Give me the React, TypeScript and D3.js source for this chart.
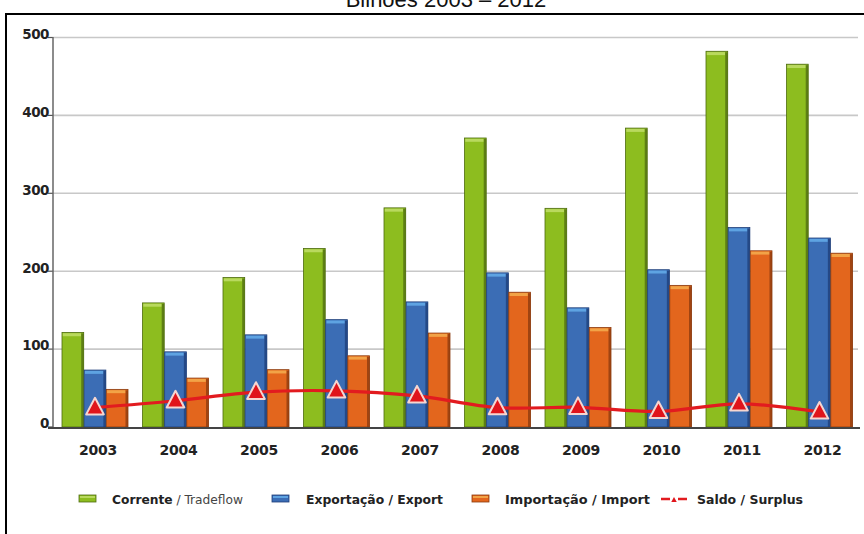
import React from "react";
import * as d3 from "d3";

const years = ["2003", "2004", "2005", "2006", "2007", "2008", "2009", "2010", "2011", "2012"];
const tradeflow = [121.4, 159.3, 191.9, 229.2, 281.3, 371.0, 280.7, 383.7, 482.3, 465.7];
const exports_ = [73.1, 96.5, 118.3, 137.8, 160.6, 197.9, 153.0, 201.9, 256.0, 242.6];
const imports_ = [48.3, 62.8, 73.6, 91.4, 120.6, 173.0, 127.7, 181.8, 226.2, 223.1];
const surplus = [24.8, 33.7, 44.7, 46.5, 40.0, 24.9, 25.3, 20.1, 29.8, 19.4];
const yTicks = [0, 100, 200, 300, 400, 500];
const seriesNames = ["Corrente / Tradeflow", "Exportação / Export", "Importação / Import", "Saldo / Surplus"];
const title = "Bilhões 2003 – 2012";

const W = 864;
const H = 534;

const barStyles = [
  { fill: "#8dbd1f", top: "#b9d95e", edge: "#4e6b10" },
  { fill: "#3b6db5", top: "#5ea3e2", edge: "#1e3e78" },
  { fill: "#e3661d", top: "#f2a347", edge: "#8a3a0d" },
];

export default function App() {
  const y = d3.scaleLinear().domain([0, 500]).range([427, 37.5]);
  const x0 = d3.scaleBand<string>().domain(years).range([54.75, 859.75]).padding(0);
  const groupW = 66;
  const x1 = d3.scaleBand<number>().domain([0, 1, 2]).range([0, groupW]).paddingInner(0.02);
  const groupStart = (yr: string) => (x0(yr) as number) + (x0.bandwidth() - groupW) / 2;
  const center = (yr: string) => (x0(yr) as number) + x0.bandwidth() / 2;
  const barData = [tradeflow, exports_, imports_];

  const line = d3
    .line<number>()
    .x((_, i) => center(years[i]))
    .y((d) => y(d))
    .curve(d3.curveCatmullRom.alpha(0.5));

  const tri = (cx: number, cy: number, s: number) =>
    `M${cx},${cy - s * 0.62} L${cx + s * 0.55},${cy + s * 0.42} L${cx - s * 0.55},${cy + s * 0.42} Z`;

  const legendItems = [
    { sx: 79, tx: 112, tw: 131 },
    { sx: 272, tx: 306, tw: 137 },
    { sx: 472, tx: 505, tw: 145 },
    { sx: 661, tx: 697, tw: 106 },
  ];
  const legY = 499;

  return (
    <svg
      width={W}
      height={H}
      style={{ position: "absolute", left: 0, top: 0, background: "#fff" }}
      xmlns="http://www.w3.org/2000/svg"
    >
      {/* title (cut off at top) */}
      <text x={446} y={7} textAnchor="middle" fontFamily="Liberation Sans, Arial" fontSize={22} fill="#111">
        {title}
      </text>
      {/* frame */}
      <rect x={6} y={14} width={W + 10} height={H + 10} fill="none" stroke="#000" strokeWidth={2} />

      {/* gridlines */}
      {yTicks.filter((t) => t > 0).map((t) => (
        <line key={t} x1={53} x2={858} y1={y(t)} y2={y(t)} stroke="#c8c8c8" strokeWidth={1.6} />
      ))}
      {/* y ticks + labels */}
      {yTicks.map((t) => (
        <g key={"t" + t}>
          <line x1={48} x2={53} y1={y(t)} y2={y(t)} stroke="#555" strokeWidth={1.2} />
          <text
            x={49}
            y={y(t)}
            dy="0.1em"
            textAnchor="end"
            fontFamily="DejaVu Sans"
            fontWeight="bold"
            fontSize={13.5}
            fill="#222"
            style={{ letterSpacing: "-0.5px" }}
          >
            {t}
          </text>
        </g>
      ))}

      {/* bars */}
      {years.map((yr, i) => (
        <g key={yr}>
          {barData.map((arr, s) => {
            const bx = groupStart(yr) + (x1(s) as number);
            const bw = x1.bandwidth();
            const by = y(arr[i]);
            const bh = y(0) - by;
            const st = barStyles[s];
            return (
              <g key={s}>
                <rect x={bx} y={by} width={bw} height={bh} fill={st.fill} stroke={st.edge} strokeWidth={0.8} />
                <rect x={bx + bw - 2.5} y={by + 1} width={2.5} height={bh - 1} fill={st.edge} opacity={0.75} />
                <rect x={bx + 0.8} y={by + 0.8} width={bw - 3.5} height={3} fill={st.top} />
              </g>
            );
          })}
        </g>
      ))}

      {/* axes */}
      <line x1={53} x2={53} y1={37} y2={428} stroke="#666" strokeWidth={1.5} />
      <line x1={48} x2={860} y1={428} y2={428} stroke="#444" strokeWidth={1.8} />

      {/* x labels */}
      {years.map((yr) => (
        <text
          key={"x" + yr}
          x={center(yr) + 3}
          y={455}
          textAnchor="middle"
          fontFamily="DejaVu Sans"
          fontWeight="bold"
          fontSize={14}
          fill="#222"
          style={{ letterSpacing: "-0.3px" }}
        >
          {yr}
        </text>
      ))}

      {/* surplus line */}
      <path d={line(surplus) || ""} fill="none" stroke="#e21b1f" strokeWidth={3.2} />
      {surplus.map((v, i) => (
        <path
          key={"m" + i}
          d={tri(center(years[i]), y(v), 16)}
          fill="#e0141b"
          stroke="#f6d6d0"
          strokeWidth={2}
          strokeLinejoin="round"
        />
      ))}

      {/* legend */}
      {legendItems.map((it, k) => (
        <g key={"l" + k}>
          {k < 3 ? (
            <g>
              <rect x={it.sx} y={legY - 4} width={17} height={7} fill={barStyles[k].fill} stroke={barStyles[k].edge} strokeWidth={0.8} />
              <rect x={it.sx + 1} y={legY - 3} width={15} height={2} fill={barStyles[k].top} />
            </g>
          ) : (
            <g>
              <line x1={it.sx} x2={it.sx + 9} y1={legY} y2={legY} stroke="#e21b1f" strokeWidth={2.5} />
              <line x1={it.sx + 17} x2={it.sx + 26} y1={legY} y2={legY} stroke="#e21b1f" strokeWidth={2.5} />
              <path d={tri(it.sx + 13, legY + 1, 5)} fill="#e0141b" />
            </g>
          )}
          {k === 0 ? (
            <text
              x={it.tx}
              y={legY + 5}
              fontFamily="DejaVu Sans Condensed, DejaVu Sans"
              fontSize={13}
              fill="#222"
              textLength={it.tw}
              lengthAdjust="spacingAndGlyphs"
            >
              <tspan fontWeight="bold">Corrente</tspan>
              <tspan fill="#444"> / Tradeflow</tspan>
            </text>
          ) : (
            <text
              x={it.tx}
              y={legY + 5}
              fontFamily="DejaVu Sans Condensed, DejaVu Sans"
              fontWeight="bold"
              fontSize={13}
              fill="#222"
              textLength={it.tw}
              lengthAdjust="spacingAndGlyphs"
            >
              {seriesNames[k]}
            </text>
          )}
        </g>
      ))}
    </svg>
  );
}
